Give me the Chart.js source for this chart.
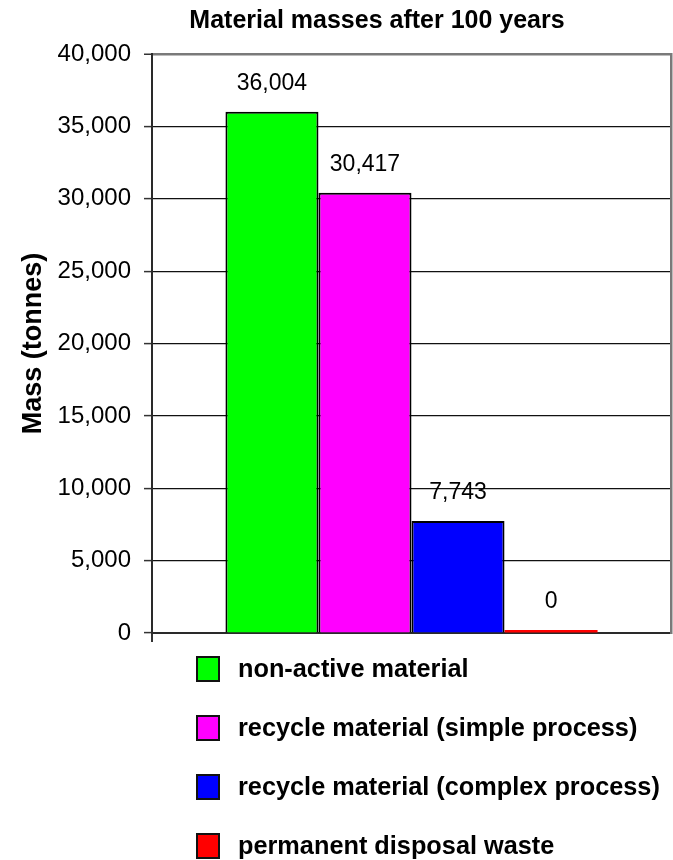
<!DOCTYPE html>
<html>
<head>
<meta charset="utf-8">
<script src="https://cdn.jsdelivr.net/npm/chart.js@4.4.1/dist/chart.umd.min.js"></script>
<style>
  html, body { margin: 0; padding: 0; background: #fff; }
  canvas { display: block; }
</style>
</head>
<body>
<canvas id="chart" width="673" height="860"></canvas>
<script>
// Material masses after 100 years — one category, four adjacent series.

const chartTitle = 'Material masses after 100 years';
const yAxisTitle = 'Mass (tonnes)';
const categories = [''];
const seriesNames = [
    'non-active material',
    'recycle material (simple process)',
    'recycle material (complex process)',
    'permanent disposal waste',
];
const seriesValues = [36004, 30417, 7743, 0];
const yMin = 0;
const yMax = 40000;
const yStep = 5000;

const seriesColors = ['#00ff00', '#ff00ff', '#0000ff', '#ff0000'];
const FONT = '"Liberation Sans", Arial, sans-serif';

const fmt = v => Number(v).toLocaleString('en-US');

// value labels above each bar
const valueLabels = {
    id: 'valueLabels',
    afterDatasetsDraw(chart) {
        const ctx = chart.ctx;
        ctx.save();
        ctx.font = `23px ${FONT}`;
        ctx.fillStyle = '#000';
        ctx.textAlign = 'center';
        ctx.textBaseline = 'alphabetic';
        chart.data.datasets.forEach((ds, i) => {
            const meta = chart.getDatasetMeta(i);
            meta.data.forEach((bar, j) => {
                ctx.fillText(fmt(ds.data[j]), bar.x, bar.y - 22);
            });
        });
        ctx.restore();
    },
};

// title off-centre and a stacked legend like the original
const titleAndLegend = {
    id: 'titleAndLegend',
    afterDraw(chart) {
        const ctx = chart.ctx;
        ctx.save();
        ctx.fillStyle = '#000';
        ctx.font = `bold 25px ${FONT}`;
        ctx.textAlign = 'center';
        ctx.textBaseline = 'alphabetic';
        ctx.fillText(chartTitle, 377, 28);

        ctx.font = `bold 25.3px ${FONT}`;
        ctx.textAlign = 'left';
        ctx.textBaseline = 'middle';
        chart.data.datasets.forEach((ds, i) => {
            const cy = 669 + i * 59;
            ctx.fillStyle = ds.backgroundColor;
            ctx.fillRect(197, cy - 12, 22, 24);
            ctx.strokeStyle = '#111';
            ctx.lineWidth = 2;
            ctx.strokeRect(197, cy - 12, 22, 24);
            ctx.fillStyle = '#000';
            ctx.fillText(ds.label, 238, cy + 1);
        });
        ctx.restore();
    },
};

const datasets = seriesNames.map((name, i) => ({
    label: name,
    data: [seriesValues[i]],
    backgroundColor: seriesColors[i],
    borderColor: '#000',
    borderWidth: seriesValues[i] > 0 ? 2 : 0,
    minBarLength: 3,
}));

new Chart(document.getElementById('chart'), {
    type: 'bar',
    data: { labels: categories, datasets },
    plugins: [valueLabels, titleAndLegend],
    options: {
        responsive: false,
        animation: false,
        layout: { padding: { left: 0, top: 54, right: 2, bottom: 227 } },
        datasets: {
            bar: { categoryPercentage: 0.717, barPercentage: 1.0 },
        },
        plugins: {
            legend: { display: false },
            title: { display: false },
            tooltip: { enabled: false },
        },
        scales: {
            x: {
                type: 'category',
                ticks: { display: false },
                grid: {
                    offset: true,
                    drawOnChartArea: false,
                    drawTicks: true,
                    tickLength: 9,
                    color: ctx => (ctx.index === 0 ? '#333' : 'rgba(0,0,0,0)'),
                    lineWidth: 2,
                },
                border: { display: true, color: '#2a2a2a', width: 2 },
                afterFit(scale) { scale.height = 0; },
            },
            y: {
                type: 'linear',
                position: 'left',
                min: yMin,
                max: yMax,
                ticks: {
                    stepSize: yStep,
                    color: '#000',
                    padding: 13,
                    font: { family: FONT, size: 24 },
                    callback: v => fmt(v),
                },
                grid: {
                    color: ctx => (ctx.tick && ctx.tick.value === yMax ? '#7a7a7a' : '#111'),
                    lineWidth: ctx => (ctx.tick && ctx.tick.value === yMax ? 2.5 : 1.2),
                    tickColor: '#333',
                    tickWidth: 1.5,
                    tickLength: 8,
                },
                border: { display: true, color: '#2a2a2a', width: 2 },
                title: {
                    display: true,
                    text: yAxisTitle,
                    color: '#000',
                    font: { family: FONT, size: 27, weight: 'bold' },
                    padding: { top: 17, bottom: 0 },
                },
                afterFit(scale) { scale.width = 152; },
            },
            frame: {
                type: 'linear',
                position: 'right',
                min: yMin,
                max: yMax,
                ticks: { display: false },
                grid: { display: false },
                border: { display: true, color: '#7a7a7a', width: 2.5 },
                afterFit(scale) { scale.width = 0; },
            },
        },
    },
});
</script>
</body>
</html>
